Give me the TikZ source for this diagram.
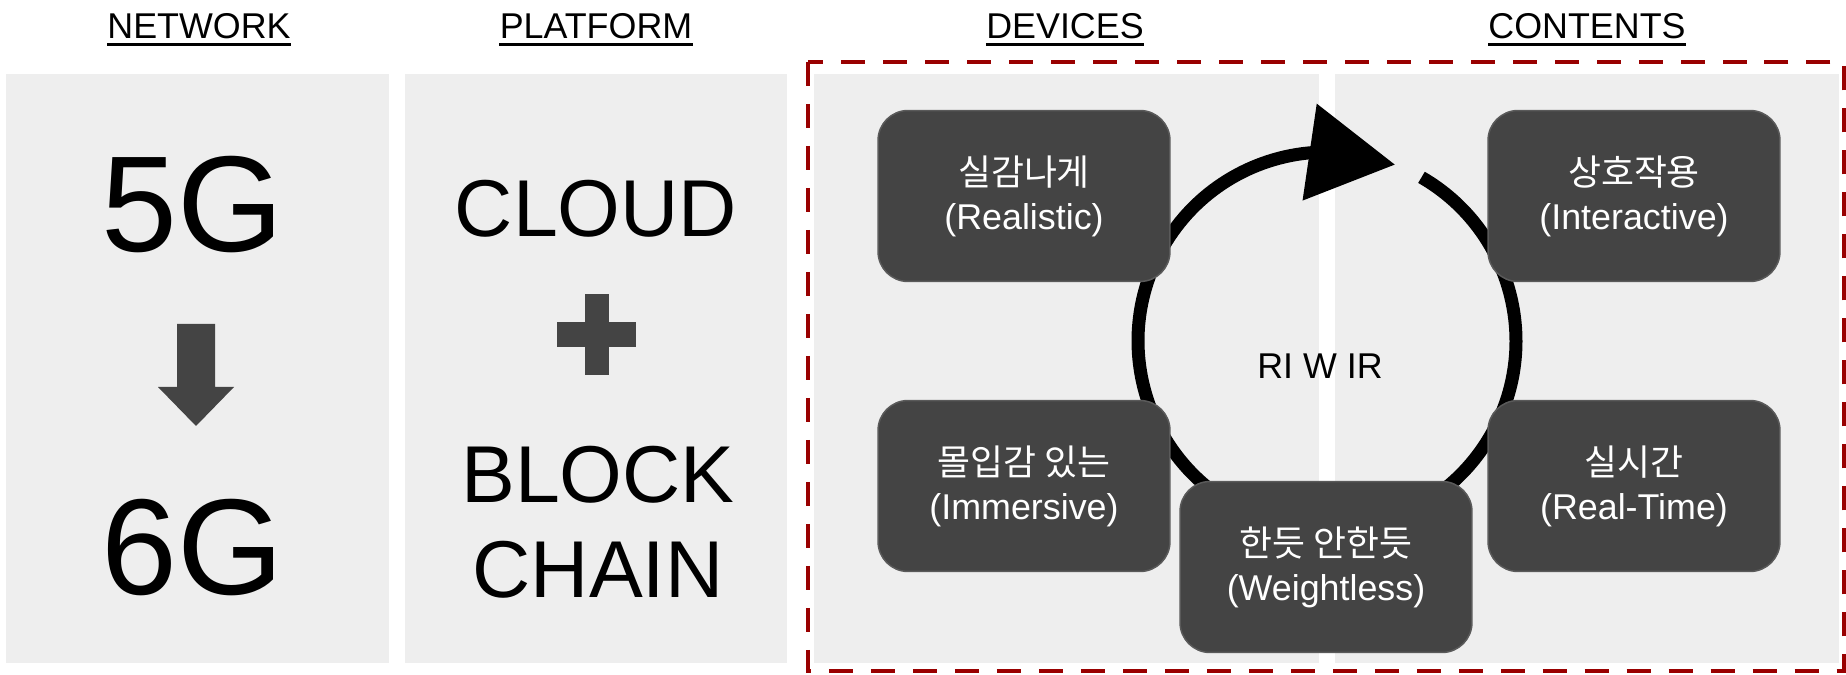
\documentclass[tikz,border=0pt]{standalone}
\usepackage{fontspec}
\setmainfont{Liberation Sans}
\newfontfamily\krfont{Noto Sans CJK KR}
\usetikzlibrary{arrows.meta,bending}

\definecolor{panelgray}{HTML}{EEEEEE}
\definecolor{boxgray}{HTML}{444444}
\definecolor{boxedge}{HTML}{5A5A5A}
\definecolor{darkred}{HTML}{990000}

\tikzset{
    panel/.style={fill=panelgray},
    headline/.style={inner sep=0pt, anchor=base, font=\fontsize{20.4}{24}\selectfont},
    uline/.style={line width=0.06cm},
    bigtext/.style={inner sep=0pt, font=\fontsize{77.7}{90}\selectfont},
    midtext/.style={inner sep=0pt, align=center, font=\fontsize{45.9}{53.9}\selectfont},
    card/.style={rounded corners=0.6cm, fill=boxgray, draw=boxedge, line width=0.03cm,
        minimum width=5.84cm, minimum height=3.42cm, text=white, align=center,
        font=\fontsize{20.4}{25}\selectfont},
    redframe/.style={draw=darkred, line width=0.08cm, dash pattern=on 0.48cm off 0.36cm},
    cycleline/.style={line width=0.26cm,
        -{Triangle[flex, line width=0pt, length=1.72cm, width=1.96cm]}}
}

\begin{document}
\begin{tikzpicture}[x=0.02cm, y=-0.02cm]
    \useasboundingbox (0,0) rectangle (1846,675);
    \fill[white] (0,0) rectangle (1846,675);

    % Panels
    \fill[panel] (6,74) rectangle (389,663);
    \fill[panel] (405,74) rectangle (787,663);
    \fill[panel] (814,74) rectangle (1319,663);
    \fill[panel] (1335,74) rectangle (1839,663);
    \draw[redframe] (808,62) rectangle (1844,671);

    % Headlines
    \node[headline] (hnet) at (199,39) {NETWORK};
    \node[headline] (hplat) at (596,39) {PLATFORM};
    \node[headline] (hdev) at (1065,39) {DEVICES};
    \node[headline] (hcont) at (1587,39) {CONTENTS};
    \foreach \t in {hnet,hplat,hdev,hcont}
        \draw[uline] ([yshift=-0.11cm]\t.base west) -- ([yshift=-0.11cm]\t.base east);

    % Network
    \node[bigtext] (fiveg) at (193,205) {5G};
    \node[bigtext] (sixg) at (193,548) {6G};
    \fill[boxgray] (177,324) -- (215,324) -- (215,387) -- (234,387) -- (196,426)
        -- (158,387) -- (177,387) -- cycle;

    % Platform
    \node[midtext] (cloud) at (596,209) {CLOUD};
    \node[midtext] (chain) at (598,522) {BLOCK\\CHAIN};
    \fill[boxgray] (585,294) rectangle (609,375);
    \fill[boxgray] (557,322) rectangle (636,347);

    % Cycle
    \coordinate (hub) at (1327,341);
    \draw[cycleline] ([shift={(60:3.78cm)}]hub) arc[start angle=60, end angle=-291, radius=3.78cm];
    \node[inner sep=0pt, font=\fontsize{20.4}{24}\selectfont] (riwir) at (1320,366) {RI W IR};

    % Devices and contents
    \node[card] (realistic) at (1024,196) {{\krfont 실감나게}\\(Realistic)};
    \node[card] (immersive) at (1024,486) {{\krfont 몰입감 있는}\\(Immersive)};
    \node[card] (weightless) at (1326,567) {{\krfont 한듯 안한듯}\\(Weightless)};
    \node[card] (interactive) at (1634,196) {{\krfont 상호작용}\\(Interactive)};
    \node[card] (realtime) at (1634,486) {{\krfont 실시간}\\(Real-Time)};
\end{tikzpicture}
\end{document}
